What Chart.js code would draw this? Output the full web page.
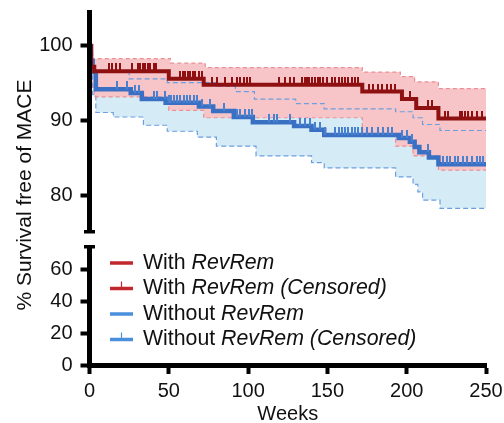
<!DOCTYPE html>
<html>
<head>
<meta charset="utf-8">
<script src="https://cdn.jsdelivr.net/npm/chart.js@4/dist/chart.umd.min.js"></script>
<style>
  html, body { margin: 0; padding: 0; background: #fff; }
</style>
</head>
<body>
<canvas id="kmChart" width="504" height="423"></canvas>
<script>
// Kaplan-Meier data (weeks, % survival free of MACE)
const redWeeks = [0, 1, 3, 50, 72, 172, 197, 206, 220, 250];
const redSurv  = [100, 97.2, 96.6, 95.6, 94.8, 93.9, 92.9, 91.7, 90.3, 90.3];
const redUpperWeeks = [0, 1, 51, 73, 172, 196, 205, 220, 250];
const redUpper      = [100, 98.3, 97.7, 97.1, 96.5, 95.9, 95.2, 94.3, 94.3];
const redLowerWeeks = [0, 1, 3, 50, 72, 172, 193, 204, 220, 250];
const redLower      = [100, 94.5, 93.2, 91.4, 90.4, 88.0, 86.6, 85.3, 83.4, 83.4];

const blueWeeks = [0, 1, 2, 4, 26, 33, 48, 69, 78, 91, 103, 129, 140, 148, 195, 202, 205, 208, 214, 220, 250];
const blueSurv  = [100, 98, 96.5, 94.2, 93.7, 92.9, 92.4, 91.9, 91.3, 90.5, 89.8, 89.3, 88.8, 88.1, 87.7, 87.2, 86.5, 85.8, 85.1, 84.2, 84.2];
const blueUpperWeeks = [0, 1, 2, 25, 49, 80, 92, 104, 130, 148, 193, 204, 210, 221, 250];
const blueUpper      = [100, 99, 96.6, 95.6, 95.1, 94.6, 93.9, 92.9, 92.3, 91.6, 91.2, 90.4, 89.5, 88.7, 88.7];
const blueLowerWeeks = [0, 1, 2, 4, 15, 34, 49, 68, 80, 105, 140, 148, 193, 204, 207, 210, 221, 250];
const blueLower      = [100, 96, 93.5, 91.1, 90.5, 89.4, 88.6, 87.8, 86.6, 85.3, 84.4, 83.7, 82.5, 81.5, 80.5, 79.4, 78.3, 78.3];

// censored observations (weeks)
const redCensored = [12, 14, 17, 19, 27, 30.6, 32, 33.6, 35.3, 36.7, 38.4, 40.5, 42, 57.3, 58.8, 60.5, 62, 63.5, 65, 66.8, 68.8, 71,
  77.3, 80.4, 85.6, 89.8, 93, 95.1, 97.2, 99.3, 101.4, 119.2, 123.4, 126.6, 128.7, 134, 135.6, 137.1, 138.5, 140.6, 142.3, 143.8,
  145.5, 147.5, 149.7, 152.8, 154.9, 157, 159.1, 161.2, 163.3, 165.4, 167.5, 169.6, 176, 179, 182.2, 184.7, 187.5, 190.2, 192.7,
  202, 213.7, 215.8, 224.2, 226.3, 233.6, 235.1, 236.8, 238.9, 241.4, 244.1, 247.7];
const blueCensored = [17.4, 23.7, 29, 31, 40.5, 42.6, 47.9, 49.9, 51.6, 53.1, 55.2, 57.3, 59.4, 61.5, 63.6, 65.7, 67.8, 71, 76.2,
  84.6, 93, 95.1, 98.2, 100.3, 102.5, 112.9, 116.1, 118.2, 126.6, 132.9, 136, 139.2, 142.3, 145.5, 148.6, 154.9, 157, 159.1, 161.2,
  163.3, 165.4, 167.5, 169.6, 171.7, 174.9, 178, 182.2, 185.3, 188.5, 190.6, 196.9, 200, 203.2, 213.7, 223.1, 225.2, 227.3, 230.5,
  232.6, 235.7, 237.8, 241, 244.1, 246.2, 248.3];

const xTicks = [0, 50, 100, 150, 200, 250];
const upperTicks = [80, 90, 100];
const lowerTicks = [0, 20, 40, 60];

const legendItems = [
  { plain: 'With ',    italic: 'RevRem',              color: '#c0282d', censored: false },
  { plain: 'With ',    italic: 'RevRem (Censored)',   color: '#c0282d', censored: true },
  { plain: 'Without ', italic: 'RevRem',              color: '#4a8fdc', censored: false },
  { plain: 'Without ', italic: 'RevRem (Censored)',   color: '#4a8fdc', censored: true }
];

const FONT = '"Liberation Sans", Arial, Helvetica, sans-serif';

const toPoints = (xs, ys) => xs.map((x, i) => ({ x: x, y: ys[i] }));

// value of a step curve at time t
function stepAt(xs, ys, t) {
  let v = ys[0];
  for (let i = 0; i < xs.length; i++) {
    if (xs[i] <= t) v = ys[i];
  }
  return v;
}

// tick mark image used for censored points (upper half only)
function censorMark(color) {
  const c = document.createElement('canvas');
  c.width = 2;
  c.height = 16;
  const g = c.getContext('2d');
  g.fillStyle = color;
  g.fillRect(0, 0, 2, 8);
  return c;
}

const bandLine = (data, color, dash, extra) => Object.assign({
  type: 'line',
  data: data,
  yAxisID: 'y',
  stepped: true,
  borderColor: color,
  borderWidth: 1.2,
  borderDash: dash,
  pointRadius: 0,
  fill: false
}, extra || {});

const datasets = [
  bandLine(toPoints(blueUpperWeeks, blueUpper), '#6c9ee0', [5, 3], { order: 8, fill: '+1', backgroundColor: '#d5ecf7' }),
  bandLine(toPoints(blueLowerWeeks, blueLower), '#6c9ee0', [5, 3], { order: 7 }),
  bandLine(toPoints(redUpperWeeks, redUpper), '#ec8f95', [4, 3], { order: 6, fill: '+1', backgroundColor: '#f7c4c8' }),
  bandLine(toPoints(redLowerWeeks, redLower), '#ec8f95', [4, 3], { order: 5 }),
  {
    type: 'line', data: toPoints(blueWeeks, blueSurv), yAxisID: 'y', stepped: true,
    borderColor: '#3a70c4', borderWidth: 4.5, pointRadius: 0, fill: false, order: 4
  },
  {
    type: 'line', data: toPoints(redWeeks, redSurv), yAxisID: 'y', stepped: true,
    borderColor: '#8e1010', borderWidth: 4, pointRadius: 0, fill: false, order: 3
  },
  {
    type: 'line', data: blueCensored.map(t => ({ x: t, y: stepAt(blueWeeks, blueSurv, t) })), yAxisID: 'y',
    showLine: false, pointStyle: censorMark('#4a80d0'), pointRadius: 3, order: 2
  },
  {
    type: 'line', data: redCensored.map(t => ({ x: t, y: stepAt(redWeeks, redSurv, t) })), yAxisID: 'y',
    showLine: false, pointStyle: censorMark('#8e1010'), pointRadius: 3, order: 1
  }
];

const tickFont = { family: FONT, size: 20 };

// no extra padding from tick labels
function fitY(s) {
  s.width = 89.5;
  s.paddingTop = 0;
  s.paddingBottom = 0;
}

// y axis lines with the break, y title and legend
const kmDecor = {
  id: 'kmDecor',
  afterDraw(chart) {
    const ctx = chart.ctx;
    const up = chart.scales.y;
    const low = chart.scales.y2;
    const x = chart.chartArea.left;
    ctx.save();
    ctx.fillStyle = '#000';
    const upBottom = up.getPixelForValue(up.min);
    const lowTop = low.getPixelForValue(75);
    ctx.fillRect(x - 2.5, up.top, 5, upBottom - up.top);
    ctx.fillRect(x - 5.5, upBottom - 3, 11, 3.5);
    ctx.fillRect(x - 2.5, lowTop, 5, low.bottom + 2.5 - lowTop);
    ctx.fillRect(x - 5.5, lowTop, 11, 3.5);

    // y title
    ctx.save();
    ctx.translate(25, 195);
    ctx.rotate(-Math.PI / 2);
    ctx.font = '21px ' + FONT;
    ctx.textAlign = 'center';
    ctx.textBaseline = 'middle';
    ctx.fillStyle = '#111';
    ctx.fillText('% Survival free of MACE', 0, 0);
    ctx.restore();

    // legend
    legendItems.forEach((item, i) => {
      const y = 263 + i * 25.5;
      ctx.strokeStyle = item.color;
      ctx.lineWidth = 3.5;
      ctx.beginPath();
      ctx.moveTo(110, y);
      ctx.lineTo(133, y);
      ctx.stroke();
      if (item.censored) {
        ctx.lineWidth = 1.2;
        ctx.beginPath();
        ctx.moveTo(121.5, y);
        ctx.lineTo(121.5, y - 7);
        ctx.stroke();
      }
      ctx.fillStyle = '#111';
      ctx.textBaseline = 'middle';
      ctx.textAlign = 'left';
      ctx.font = '21.3px ' + FONT;
      ctx.fillText(item.plain, 143, y);
      const w = ctx.measureText(item.plain).width;
      ctx.font = 'italic 21.3px ' + FONT;
      ctx.fillText(item.italic, 143 + w, y);
    });
    ctx.restore();
  }
};

new Chart(document.getElementById('kmChart'), {
  type: 'line',
  data: { datasets: datasets },
  options: {
    responsive: false,
    animation: false,
    layout: { padding: { top: 10, right: 18, left: 0, bottom: 0 } },
    plugins: {
      legend: { display: false },
      tooltip: { enabled: false },
      filler: { drawTime: 'beforeDatasetsDraw' }
    },
    scales: {
      x: {
        type: 'linear',
        min: 0,
        max: 250,
        afterBuildTicks: s => { s.ticks = xTicks.map(v => ({ value: v })); },
        afterFit: s => { s.height = 58; s.paddingLeft = 0; s.paddingRight = 0; },
        ticks: { font: tickFont, color: '#111', padding: 5, maxRotation: 0, autoSkip: false },
        grid: { drawOnChartArea: false, tickLength: 9, tickWidth: 4, tickColor: '#000' },
        border: { display: true, color: '#000', width: 5 },
        title: { display: true, text: 'Weeks', font: { family: FONT, size: 20, lineHeight: 0.9 }, color: '#111', padding: 0 }
      },
      y2: {
        type: 'linear',
        position: 'left',
        stack: 'km',
        stackWeight: 132,
        min: 0,
        max: 82.5,
        afterBuildTicks: s => { s.ticks = lowerTicks.map(v => ({ value: v })); },
        afterFit: fitY,
        ticks: { font: tickFont, color: '#111', padding: 8, autoSkip: false },
        grid: { drawOnChartArea: false, tickLength: 9, tickWidth: 4, tickColor: '#000' },
        border: { display: false }
      },
      y: {
        type: 'linear',
        position: 'left',
        stack: 'km',
        stackWeight: 223,
        min: 75,
        max: 104.8,
        afterBuildTicks: s => { s.ticks = upperTicks.map(v => ({ value: v })); },
        afterFit: fitY,
        ticks: { font: tickFont, color: '#111', padding: 8, autoSkip: false },
        grid: { drawOnChartArea: false, tickLength: 9, tickWidth: 4, tickColor: '#000' },
        border: { display: false }
      }
    }
  },
  plugins: [kmDecor]
});
</script>
</body>
</html>
